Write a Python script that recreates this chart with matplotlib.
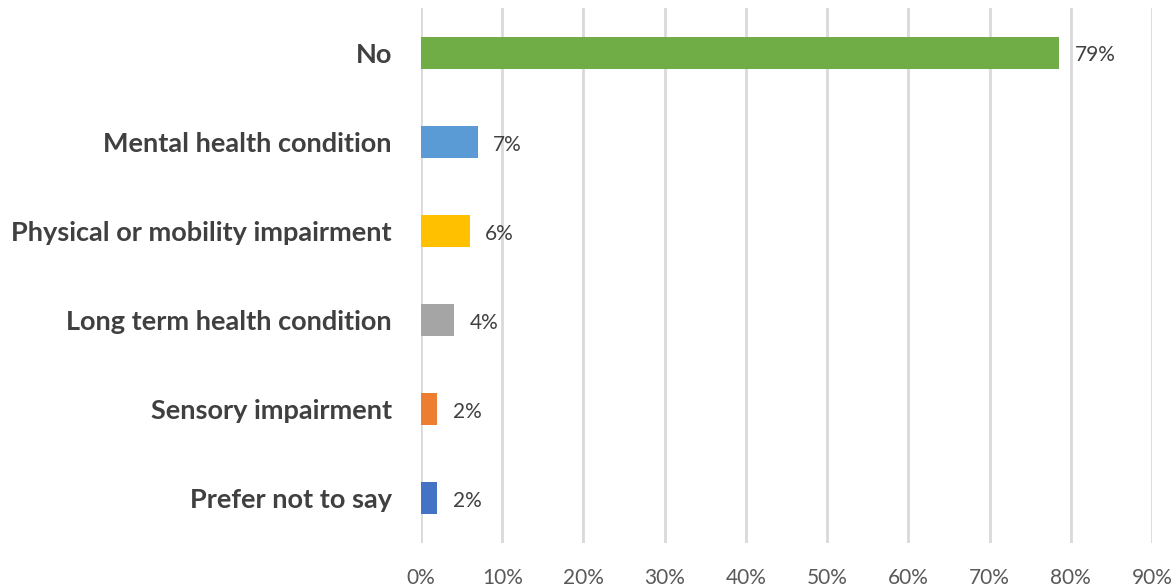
import matplotlib
matplotlib.use("Agg")
import matplotlib.pyplot as plt

# categories top to bottom, values in percent
categories = ["No", "Mental health condition", "Physical or mobility impairment",
              "Long term health condition", "Sensory impairment", "Prefer not to say"]
values = [78.6, 7.0, 6.0, 4.1, 2.0, 2.0]
colors = ["#70AD47", "#5B9BD5", "#FFC000", "#A5A5A5", "#ED7D31", "#4472C4"]
xticks = [0, 10, 20, 30, 40, 50, 60, 70, 80, 90]

plt.rcParams['font.family'] = ['Lato', 'DejaVu Sans']

fig = plt.figure(figsize=(11.75, 5.87), dpi=100)
ax = fig.add_axes([0.3583, 0.075, 0.6221, 0.911])

ypos = list(range(len(categories)))
ax.barh(ypos, values, height=0.36, color=colors, zorder=3)

for y, v in zip(ypos, values):
    ax.text(v + 1.9, y + 0.03, "%d%%" % round(v), va="center", ha="left",
            fontsize=15, color="#404040")

ax.set_xlim(0, 90)
ax.set_ylim(len(categories) - 0.5, -0.5)
ax.set_yticks(ypos)
ax.set_yticklabels(categories, fontsize=19.5, fontweight="bold", color="#404040")
ax.set_xticks(xticks)
ax.set_xticklabels(["%d%%" % t for t in xticks], fontsize=15, color="#595959")
ax.tick_params(axis="both", length=0)
ax.tick_params(axis="y", pad=21)
ax.tick_params(axis="x", pad=18)

ax.grid(axis="x", color="#D9D9D9", linewidth=2, zorder=0)
for s in ax.spines.values():
    s.set_visible(False)

fig.savefig("out.png", dpi=100)
